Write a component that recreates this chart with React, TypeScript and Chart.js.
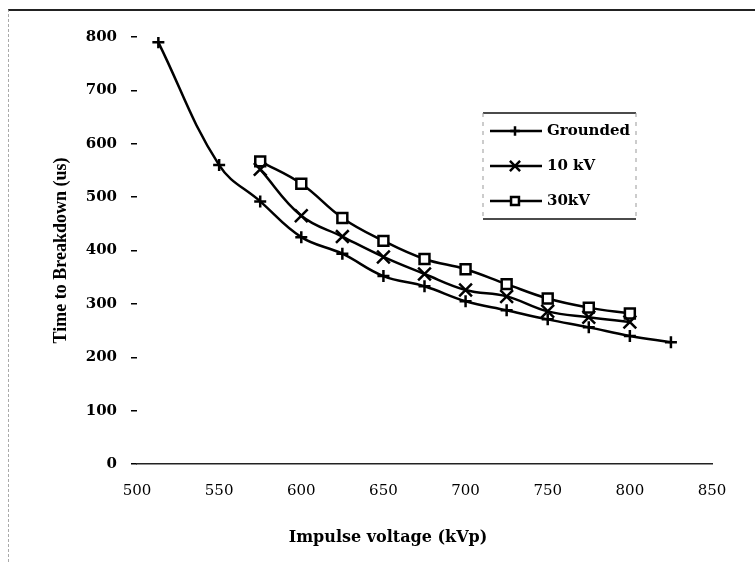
import React, { useEffect, useRef } from 'react';
import { Chart, registerables } from 'chart.js';
import { drawPoint } from 'chart.js/helpers';

Chart.register(...registerables);

// ---- data ----
const groundedVoltage = [513, 550, 575, 600, 625, 650, 675, 700, 725, 750, 775, 800, 825];
const groundedTime = [790, 560, 492, 425, 394, 352, 333, 305, 288, 271, 256, 240, 228];
const biasedVoltage = [575, 600, 625, 650, 675, 700, 725, 750, 775, 800];
const time10kV = [552, 465, 426, 388, 356, 326, 314, 286, 275, 266];
const time30kV = [567, 525, 461, 418, 384, 365, 337, 310, 293, 282];
const seriesLabels = ['Grounded', '10 kV', '30kV'];
const xTitle = 'Impulse voltage (kVp)';
const yTitle = 'Time to Breakdown (us)';
const xMin = 500;
const xMax = 850;
const xStep = 50;
const yMin = 0;
const yMax = 800;
const yStep = 100;

const toPoints = (xs: number[], ys: number[]) => xs.map((x, i) => ({ x, y: ys[i] }));

const overlayPlugin = {
  id: 'overlay',
  afterDraw(chart: any) {
    const { ctx } = chart;
    ctx.save();
    // x axis title
    ctx.font = 'bold 16px "DejaVu Serif"';
    ctx.fillStyle = '#000';
    ctx.textAlign = 'center';
    ctx.textBaseline = 'middle';
    ctx.fillText(xTitle, 388, 538);

    // legend box
    const bx = 483, by = 113, bw = 153, bh = 106;
    ctx.strokeStyle = '#111';
    ctx.lineWidth = 1.5;
    ctx.beginPath();
    ctx.moveTo(bx, by); ctx.lineTo(bx + bw, by);
    ctx.moveTo(bx, by + bh); ctx.lineTo(bx + bw, by + bh);
    ctx.stroke();
    ctx.setLineDash([4, 5]);
    ctx.lineWidth = 1;
    ctx.strokeStyle = '#999';
    ctx.beginPath();
    ctx.moveTo(bx, by); ctx.lineTo(bx, by + bh);
    ctx.moveTo(bx + bw, by); ctx.lineTo(bx + bw, by + bh);
    ctx.stroke();
    ctx.setLineDash([]);

    chart.data.datasets.forEach((ds: any, i: number) => {
      const y = 131 + i * 35;
      ctx.strokeStyle = '#000';
      ctx.lineWidth = 2.5;
      ctx.beginPath();
      ctx.moveTo(490, y);
      ctx.lineTo(542, y);
      ctx.stroke();
      ctx.fillStyle = '#fff';
      ctx.strokeStyle = '#000';
      ctx.lineWidth = 2.5;
      drawPoint(ctx, { pointStyle: ds.pointStyle, rotation: 0, radius: ds.pointRadius * 0.8, borderWidth: 2.5 }, 515, y);
      ctx.fillStyle = '#000';
      ctx.font = 'bold 15px "DejaVu Serif"';
      ctx.textAlign = 'left';
      ctx.textBaseline = 'middle';
      ctx.fillText(ds.label, 547, y);
    });
    ctx.restore();
  },
};

export default function App() {
  const canvasRef = useRef<HTMLCanvasElement | null>(null);

  useEffect(() => {
    const canvas = canvasRef.current;
    if (!canvas) return;
    const common = {
      borderColor: '#000',
      backgroundColor: '#fff',
      borderWidth: 2.5,
      pointBorderColor: '#000',
      pointBackgroundColor: '#fff',
      pointBorderWidth: 2.5,
      tension: 0.4,
      fill: false,
    };
    const chart = new Chart(canvas, {
      type: 'scatter',
      data: {
        datasets: [
          { ...common, label: seriesLabels[0], data: toPoints(groundedVoltage, groundedTime), showLine: true, pointStyle: 'cross', pointRadius: 6 },
          { ...common, label: seriesLabels[1], data: toPoints(biasedVoltage, time10kV), showLine: true, pointStyle: 'crossRot', pointRadius: 9 },
          { ...common, label: seriesLabels[2], data: toPoints(biasedVoltage, time30kV), showLine: true, pointStyle: 'rect', pointRadius: 7 },
        ],
      },
      options: {
        responsive: false,
        animation: false,
        layout: { padding: { left: 0, top: 37, right: 43, bottom: 0 } },
        plugins: {
          legend: { display: false },
          tooltip: { enabled: false },
        },
        scales: {
          x: {
            type: 'linear',
            min: xMin,
            max: xMax,
            afterFit: (scale: any) => { scale.height = 98; },
            ticks: {
              stepSize: xStep,
              padding: 18,
              color: '#000',
              font: { family: '"DejaVu Serif"', size: 15, weight: 'normal' },
            },
            grid: { display: false, drawTicks: false },
            border: { display: true, color: '#222', width: 1.5 },
          },
          y: {
            type: 'linear',
            min: yMin,
            max: yMax,
            afterFit: (scale: any) => { scale.width = 137; },
            ticks: {
              stepSize: yStep,
              padding: 14,
              color: '#000',
              font: { family: '"DejaVu Serif"', size: 15, weight: 'bold' },
            },
            grid: { display: true, drawOnChartArea: false, drawTicks: true, tickLength: 6, color: '#000', lineWidth: 1.5 },
            border: { display: false },
            title: {
              display: true,
              text: yTitle,
              color: '#000',
              font: { family: '"Liberation Serif"', size: 18, weight: 'bold' },
              padding: { top: 51, bottom: 0 },
            },
          },
        },
      },
      plugins: [overlayPlugin],
    } as any);
    return () => chart.destroy();
  }, []);

  return (
    <div style={{ position: 'fixed', left: 0, top: 0, width: 755, height: 562, background: '#fff' }}>
      <div style={{ position: 'absolute', left: 8, top: 9, right: 0, bottom: 0, borderTop: '2px solid #222', borderLeft: '1px dashed #aaa' }} />
      <canvas ref={canvasRef} width={755} height={562} style={{ position: 'absolute', left: 0, top: 0, display: 'block' }} />
    </div>
  );
}
